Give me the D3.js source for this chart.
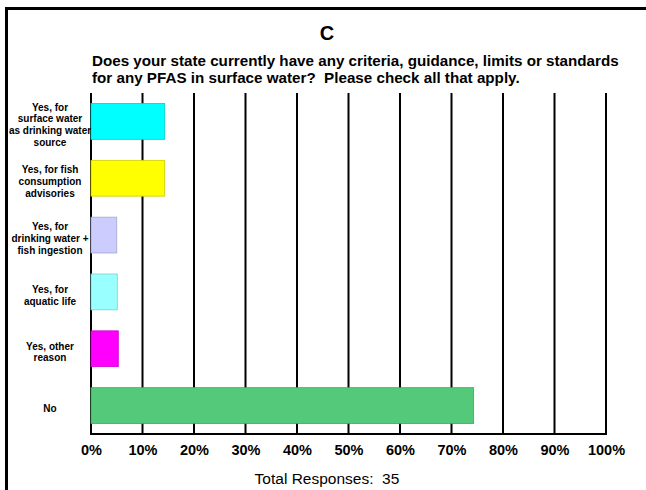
<!DOCTYPE html>
<html><head><meta charset="utf-8">
<script src="https://cdn.jsdelivr.net/npm/d3@7"></script>
<style>body{margin:0;background:#fff}svg{display:block}text{font-family:"Liberation Sans",Arial,sans-serif;white-space:pre}</style>
</head><body>
<script>
const categories = [
  ["Yes, for","surface water","as drinking water","source"],
  ["Yes, for fish","consumption","advisories"],
  ["Yes, for","drinking water +","fish ingestion"],
  ["Yes, for","aquatic life"],
  ["Yes, other","reason"],
  ["No"]
];
const values = [14.3, 14.3, 5.0, 5.1, 5.3, 74.3];
const colors = ["#00ffff","#ffff00","#ccccff","#99ffff","#ff00ff","#55c97a"];
const tickValues = [0,10,20,30,40,50,60,70,80,90,100];
const title = "C";
const question = ["Does your state currently have any criteria, guidance, limits or standards","for any PFAS in surface water?  Please check all that apply."];
const footer = "Total Responses:  35";

const W = 646, H = 490;
const svg = d3.select("body").append("svg").attr("width", W).attr("height", H);
svg.append("rect").attr("width", W).attr("height", H).attr("fill", "#fff");
// frame
svg.append("path").attr("d", `M6.5,${H} L6.5,8.5 L${W},8.5`).attr("fill","none").attr("stroke","#000").attr("stroke-width",3);

const x = d3.scaleLinear().domain([0,100]).range([91,606]);
const y = d3.scaleBand().domain(d3.range(categories.length)).range([93,434]).paddingInner(0.37).paddingOuter(0.185);

// gridlines
svg.append("g").selectAll("line").data(tickValues).join("line")
  .attr("x1", d=>x(d)).attr("x2", d=>x(d)).attr("y1", 93).attr("y2", 434)
  .attr("stroke","#000").attr("stroke-width",2);
svg.append("line").attr("x1", x(0)-1).attr("x2", x(100)+1).attr("y1",434).attr("y2",434).attr("stroke","#000").attr("stroke-width",2);

// bars
svg.append("g").selectAll("rect").data(values).join("rect")
  .attr("x", x(0)).attr("y", (d,i)=>y(i)).attr("width", d=>x(d)-x(0)).attr("height", y.bandwidth())
  .attr("fill", (d,i)=>colors[i]).attr("stroke", (d,i)=>d3.color(colors[i]).darker(0.6)).attr("stroke-width",0.8);

// category labels
const lab = svg.append("g").selectAll("text").data(categories).join("text")
  .attr("text-anchor","middle").attr("font-weight","bold").attr("font-size",10).attr("fill","#000");
lab.each(function(lines,i){
  const cy = y(i) + y.bandwidth()/2;
  const lh = 11.7;
  const y0 = cy - (lines.length-1)*lh/2 + 6.8;
  d3.select(this).selectAll("tspan").data(lines).join("tspan")
    .attr("x", 50).attr("y", (d,j)=>y0 + j*lh).text(d=>d);
});

// axis
const axis = d3.axisBottom(x).tickValues(tickValues).tickFormat(d=>d+"%").tickSize(0).tickPadding(11);
const ag = svg.append("g").attr("transform","translate(0,434)").call(axis);
ag.select(".domain").remove();
ag.selectAll("text").attr("font-family","'Liberation Sans',Arial,sans-serif").attr("font-weight","bold").attr("font-size",14.5).attr("fill","#000");

// titles
svg.append("text").attr("x",327).attr("y",40).attr("text-anchor","middle").attr("font-weight","bold").attr("font-size",20).text(title);
svg.append("g").selectAll("text").data(question).join("text")
  .attr("x",92).attr("y",(d,i)=>66+i*17).attr("font-weight","bold").attr("font-size",15.2).text(d=>d);
svg.append("text").attr("x",327).attr("y",484).attr("text-anchor","middle").attr("font-size",15.5).text(footer);
</script>
</body></html>
